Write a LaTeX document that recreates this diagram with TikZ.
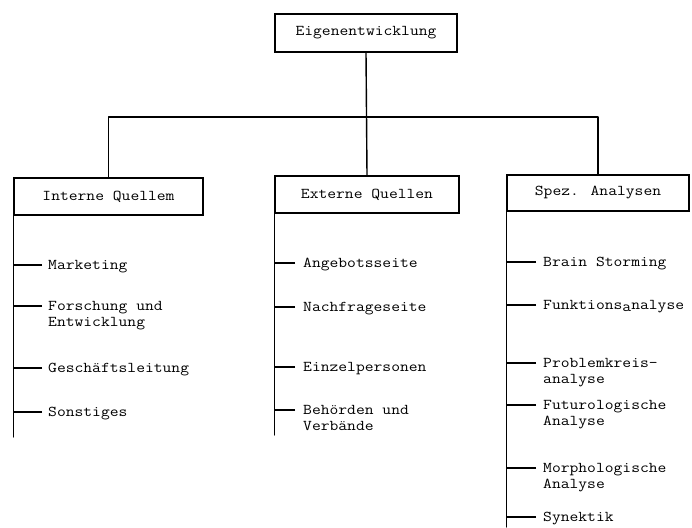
\documentclass[tikz,border=0pt]{standalone}
\usepackage{graphicx}
% typewriter lettering: Latin Modern Mono, widened to a pica pitch
\newcommand\tw[1]{\scalebox{1.14}[1]{#1}}
\begin{document}
\begin{tikzpicture}[x=1pt,y=-1pt,
  line/.style={line width=1.4pt, line cap=round, line join=round},
  tick/.style={line width=1.2pt},
  box/.style={draw, line width=1.4pt, rectangle, inner sep=0pt,
    font=\ttfamily\fontsize{15}{16}\selectfont},
  leaf/.style={anchor=north west, inner sep=0pt, align=left,
    font=\ttfamily\fontsize{15}{16}\selectfont}]
% canvas
\fill[white] (0,0) rectangle (692,527);
\useasboundingbox (0,0) rectangle (692,527);

% root and the three branch boxes
\node[box, minimum width=182pt, minimum height=38pt] (top) at (366,33) {\tw{Eigenentwicklung}};
\node[box, minimum width=189pt, minimum height=37pt] (il) at (108.5,196.5) {\tw{Interne Quellem}};
\node[box, minimum width=184pt, minimum height=37pt] (eq) at (367,194.5) {\tw{Externe Quellen}};
\node[box, minimum width=182pt, minimum height=36pt] (sa) at (598,193) {\tw{Spez. Analysen}};

% bus joining the root to the branches
\coordinate (bus) at (367,117);
\draw[line] (top.south) -- (eq.north);
\draw[line] (il.north) -- (il.north |- bus) -- (sa.north |- bus) -- (sa.north);

% spine ends
\coordinate (ilEnd) at (15,437);
\coordinate (eqEnd) at (275,435);
\coordinate (saEnd) at (507,527);
\draw[line] (il.south west) -- (il.south west |- ilEnd);
\draw[line] (eq.south west) -- (eq.south west |- eqEnd);
\draw[line] (sa.south west) -- (sa.south west |- saEnd);

% leaves: #1 name, #2 parent box, #3 x, #4 y of first line, #5 gap, #6 text
\newcommand\leafitem[6]{%
  \node[leaf] (#1) at (#3,#4-7) {#6};
  \coordinate (#1T) at ([shift={(-#5,-7pt)}]#1.north west);
  \draw[tick] (#1T) -- (#1T -| #2.south west);
}

% Interne Quellen
\leafitem{mk}{il}{48}{265}{6pt}{\strut\tw{Marketing}}
\leafitem{fe}{il}{48}{306}{6pt}{\strut\tw{Forschung und}\\\strut\tw{Entwicklung}}
\leafitem{gl}{il}{48}{368}{6pt}{\strut\tw{Geschäftsleitung}}
\leafitem{so}{il}{48}{412}{6pt}{\strut\tw{Sonstiges}}

% Externe Quellen
\leafitem{an}{eq}{303}{263}{8pt}{\strut\tw{Angebotsseite}}
\leafitem{na}{eq}{303}{307}{8pt}{\strut\tw{Nachfrageseite}}
\leafitem{ez}{eq}{303}{367}{8pt}{\strut\tw{Einzelpersonen}}
\leafitem{bv}{eq}{303}{410}{8pt}{\strut\tw{Behörden und}\\\strut\tw{Verbände}}

% Spezielle Analysen
\leafitem{bs}{sa}{543}{262}{7pt}{\strut\tw{Brain Storming}}
\leafitem{fa}{sa}{543}{305}{7pt}{\strut\tw{Funktions\raisebox{-2pt}{a}nalyse}}
\leafitem{pk}{sa}{543}{363}{7pt}{\strut\tw{Problemkreis-}\\\strut\tw{analyse}}
\leafitem{fu}{sa}{543}{405}{7pt}{\strut\tw{Futurologische}\\\strut\tw{Analyse}}
\leafitem{mo}{sa}{543}{468}{7pt}{\strut\tw{Morphologische}\\\strut\tw{Analyse}}
\leafitem{sy}{sa}{543}{517}{7pt}{\strut\tw{Synektik}}
\end{tikzpicture}
\end{document}
